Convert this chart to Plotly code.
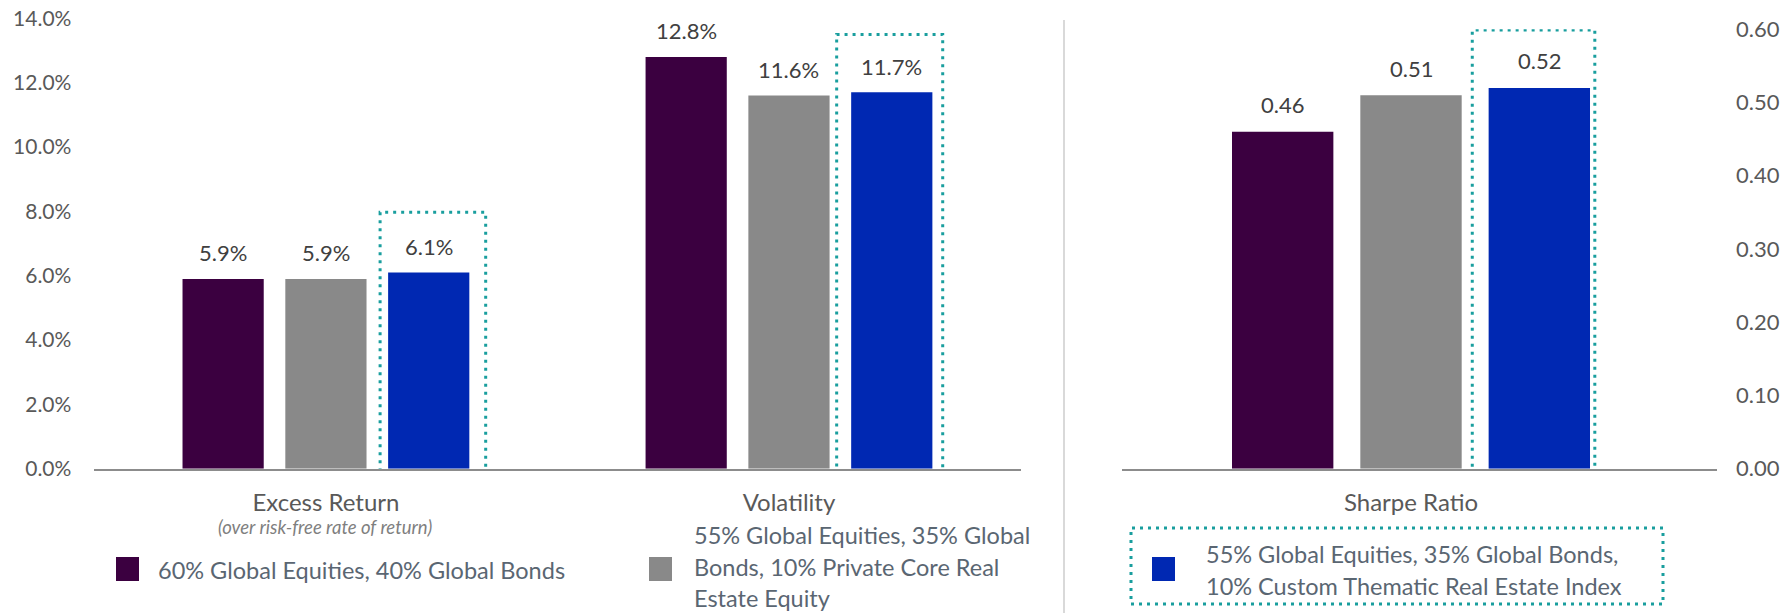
import plotly.graph_objects as go

W, H = 1783, 613

# ---------------- data ----------------
categories_left = ["Excess Return", "Volatility"]
categories_right = ["Sharpe Ratio"]
series_names = [
    "60% Global Equities, 40% Global Bonds",
    "55% Global Equities, 35% Global Bonds, 10% Private Core Real Estate Equity",
    "55% Global Equities, 35% Global Bonds, 10% Custom Thematic Real Estate Index",
]
pct_6040 = [5.9, 12.8]
pct_private_core = [5.9, 11.6]
pct_thematic = [6.1, 11.7]
sharpe_6040 = [0.46]
sharpe_private_core = [0.51]
sharpe_thematic = [0.52]
left_ticks = [0, 2, 4, 6, 8, 10, 12, 14]
right_ticks = [0.0, 0.1, 0.2, 0.3, 0.4, 0.5, 0.6]
subtitle = "(over risk-free rate of return)"
legend_lines = [
    ["60% Global Equities, 40% Global Bonds"],
    ["55% Global Equities, 35% Global", "Bonds, 10% Private Core Real", "Estate Equity"],
    ["55% Global Equities, 35% Global Bonds,", "10% Custom Thematic Real Estate Index"],
]

# ---------------- style ----------------
colors = ["#3B0040", "#898989", "#0028B2"]
TEAL = "#199E9E"
FONT = "Lato"
TICK_COLOR = "#595959"
LABEL_COLOR = "#404040"
LEG_COLOR = "#5A6672"
BARGAP = 0.334
SLOT = (1 - BARGAP) / 3
DOT = dict(color=TEAL, width=3, dash="3px,5px")


def px(x):
    return x / W


def py(y):
    return 1 - y / H


left_series = [pct_6040, pct_private_core, pct_thematic]
right_series = [sharpe_6040, sharpe_private_core, sharpe_thematic]

fig = go.Figure()
for i in range(3):
    fig.add_trace(go.Bar(x=categories_left, y=left_series[i], name=series_names[i],
                         marker=dict(color=colors[i], line=dict(width=0)),
                         xaxis="x", yaxis="y", showlegend=False))
for i in range(3):
    fig.add_trace(go.Bar(x=categories_right, y=right_series[i], name=series_names[i],
                         marker=dict(color=colors[i], line=dict(width=0)),
                         xaxis="x2", yaxis="y2", showlegend=False))

annotations = []
# data labels
for i, vals in enumerate(left_series):
    for c, v in enumerate(vals):
        annotations.append(dict(x=c + (i - 1) * SLOT, y=v, xref="x", yref="y",
                                text=f"{v:.1f}%", showarrow=False, yanchor="middle",
                                yshift=26, font=dict(family=FONT, size=22, color=LABEL_COLOR)))
for i, vals in enumerate(right_series):
    for c, v in enumerate(vals):
        annotations.append(dict(x=c + (i - 1) * SLOT, y=v, xref="x2", yref="y2",
                                text=f"{v:.2f}", showarrow=False, yanchor="middle",
                                yshift=27, font=dict(family=FONT, size=22, color=LABEL_COLOR)))
# subtitle under Excess Return
annotations.append(dict(x=0, y=py(527), xref="x", yref="paper", text=f"<i>{subtitle}</i>",
                        showarrow=False, yanchor="middle",
                        font=dict(family=FONT, size=18.5, color="#7F7F7F")))

shapes = []
# highlight boxes around thematic bars
shapes.append(dict(type="rect", xref="x", yref="y", x0=0.117, x1=0.345, y0=-0.14, y1=7.97,
                   line=DOT, fillcolor="rgba(0,0,0,0)", layer="above"))
shapes.append(dict(type="rect", xref="x", yref="y", x0=1.103, x1=1.332, y0=-0.14, y1=13.5,
                   line=DOT, fillcolor="rgba(0,0,0,0)", layer="above"))
shapes.append(dict(type="rect", xref="x2", yref="y2", x0=0.106, x1=0.318, y0=-0.0145, y1=0.599,
                   line=DOT, fillcolor="rgba(0,0,0,0)", layer="above"))
# separator
shapes.append(dict(type="line", xref="paper", yref="paper", x0=px(1064), x1=px(1064),
                   y0=py(20), y1=py(613), line=dict(color="#D9D9D9", width=2)))

# custom legend
leg_sq_x = [116, 649, 1152]
leg_txt_x = [156, 692, 1204]
leg_line_y = [[570], [535, 567, 598], [554, 586]]
for i in range(3):
    shapes.append(dict(type="rect", xref="paper", yref="paper",
                       x0=px(leg_sq_x[i]), x1=px(leg_sq_x[i] + 23), y0=py(581), y1=py(557),
                       line=dict(width=0), fillcolor=colors[i]))
    for line, yy in zip(legend_lines[i], leg_line_y[i]):
        annotations.append(dict(x=px(leg_txt_x[i]), y=py(yy), xref="paper", yref="paper",
                                text=line, showarrow=False, xanchor="left", yanchor="middle",
                                font=dict(family=FONT, size=23.5, color=LEG_COLOR)))
shapes.append(dict(type="rect", xref="paper", yref="paper", x0=px(1131), x1=px(1663),
                   y0=py(604), y1=py(528), line=DOT, fillcolor="rgba(0,0,0,0)"))

axis_x_common = dict(type="category", showline=True, linecolor="#8C8C8C", linewidth=2,
                     ticks="", showgrid=False, zeroline=False, ticklabelstandoff=11,
                     automargin=False,
                     tickfont=dict(family=FONT, size=24, color=TICK_COLOR), fixedrange=True)
axis_y_common = dict(showgrid=False, zeroline=False, showline=False, ticks="",
                     automargin=False, fixedrange=True)

fig.update_layout(
    width=W, height=H, margin=dict(l=0, r=0, t=0, b=0, autoexpand=False),
    paper_bgcolor="white", plot_bgcolor="white",
    barmode="group", bargap=BARGAP, bargroupgap=0.21,
    showlegend=False,
    font=dict(family=FONT, color=TICK_COLOR),
    xaxis=dict(domain=[px(94.4), px(1020.5)], anchor="y", range=[-0.5, 1.5], **axis_x_common),
    yaxis=dict(domain=[py(468.7), py(18.3)], anchor="x", range=[0, 14], ticklabelstandoff=22,
               tickfont=dict(family=FONT, size=21, color=TICK_COLOR),
               tickvals=left_ticks, ticktext=[f"{v:.1f}%" for v in left_ticks], **axis_y_common),
    xaxis2=dict(domain=[px(1122), px(1717)], anchor="y2", range=[-0.5, 0.5294], **axis_x_common),
    yaxis2=dict(domain=[py(468.7), py(29.3)], anchor="x2", side="right", range=[0, 0.6],
                ticklabelstandoff=18,
                tickfont=dict(family=FONT, size=22, color=TICK_COLOR),
                tickvals=right_ticks, ticktext=[f"{v:.2f}" for v in right_ticks], **axis_y_common),
    annotations=annotations,
    shapes=shapes,
)

fig.write_html("out.html", config={"displayModeBar": False},
               post_script="document.body.style.margin='0';document.body.style.overflow='hidden';")
